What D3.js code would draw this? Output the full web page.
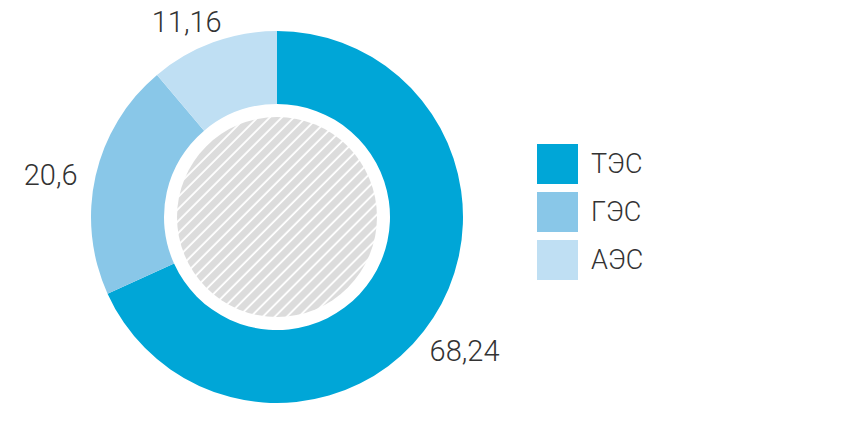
<!DOCTYPE html>
<html><head><meta charset="utf-8">
<script src="https://cdn.jsdelivr.net/npm/d3@7"></script>
<style>
html,body{margin:0;padding:0;background:#fff;}
text{font-family:Roboto,"Liberation Sans",sans-serif;font-weight:300;fill:#333;}
</style></head>
<body>
<svg id="c" width="846" height="430"></svg>
<script>
const categories = ["ТЭС", "ГЭС", "АЭС"];
const values = [68.24, 20.6, 11.16];
const valueLabels = ["68,24", "20,6", "11,16"];
const colors = ["#00a6d7", "#89c7e8", "#bfdff3"];

const svg = d3.select("#c");
const cx = 277, cy = 217, R = 186, r = 113, hatchR = 100;

const defs = svg.append("defs");
const pat = defs.append("pattern").attr("id","hatch")
  .attr("patternUnits","userSpaceOnUse").attr("width",8.5).attr("height",8.5)
  .attr("patternTransform","rotate(45)");
pat.append("rect").attr("width",8.5).attr("height",8.5).attr("fill","#dcdcdc");
pat.append("line").attr("x1",1).attr("x2",1).attr("y1",0).attr("y2",8.5)
  .attr("stroke","#fff").attr("stroke-width",1.8);

const g = svg.append("g").attr("transform",`translate(${cx},${cy})`);
const pie = d3.pie().sort(null).value(d=>d);
const arcs = pie(values);
const arc = d3.arc().innerRadius(r).outerRadius(R);
g.selectAll("path.s").data(arcs).join("path").attr("class","s")
  .attr("d",arc).attr("fill",(d,i)=>colors[i]);

g.append("circle").attr("r",hatchR).attr("fill","url(#hatch)");

// value labels
const labelArc = d3.arc().innerRadius(228).outerRadius(228);
const nudge = [[-4,10],[-4,8],[-12,0]];
g.selectAll("text.v").data(arcs).join("text").attr("class","v")
  .attr("x",(d,i)=>labelArc.centroid(d)[0]+nudge[i][0])
  .attr("y",(d,i)=>Math.max(labelArc.centroid(d)[1]+nudge[i][1], 22-cy))
  .attr("text-anchor","middle").attr("dominant-baseline","central")
  .attr("font-size",29).text((d,i)=>valueLabels[i]);

// legend
const leg = svg.append("g").attr("transform","translate(537,144)");
const li = leg.selectAll("g").data(categories).join("g")
  .attr("transform",(d,i)=>`translate(0,${i*48})`);
li.append("rect").attr("width",41).attr("height",40).attr("fill",(d,i)=>colors[i]);
li.append("text").attr("x",54).attr("y",20).attr("dominant-baseline","central")
  .attr("font-size",27).text(d=>d);
</script>
</body></html>
